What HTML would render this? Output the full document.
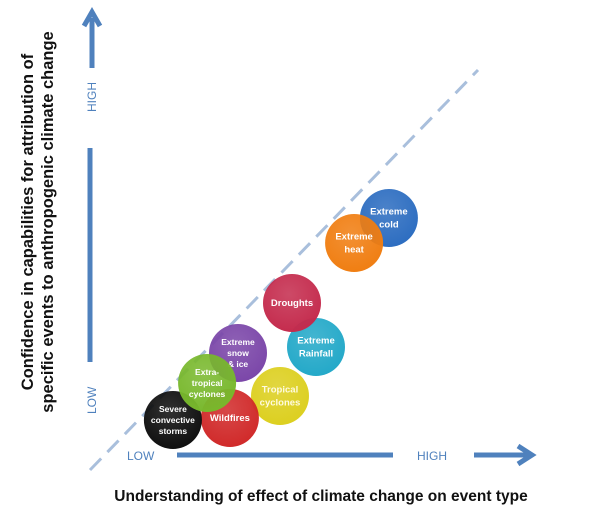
<!DOCTYPE html>
<html><head><meta charset="utf-8">
<style>
html,body{margin:0;padding:0;background:#fff;}
svg{display:block;font-family:"Liberation Sans",sans-serif;}
</style></head>
<body>
<svg id="chart" width="600" height="515" viewBox="0 0 600 515">
<defs></defs>
<line x1="90" y1="470" x2="478" y2="70" stroke="#a9bfdc" stroke-width="3" stroke-dasharray="16,9"/>
<g>
<line x1="92" y1="68" x2="92" y2="18" stroke="#4f81bd" stroke-width="5"/>
<polyline points="84,26 92,12 100,26" fill="none" stroke="#4f81bd" stroke-width="5"/>
<line x1="90" y1="148" x2="90" y2="362" stroke="#4f81bd" stroke-width="5"/>
<text transform="translate(96,112) rotate(-90)" font-size="12" fill="#4f81bd">HIGH</text>
<text transform="translate(96,414) rotate(-90)" font-size="12" fill="#4f81bd">LOW</text>
<text transform="translate(33,222) rotate(-90)" font-size="16.5" font-weight="bold" text-anchor="middle" fill="#111">Confidence in capabilities for attribution of</text>
<text transform="translate(53,222) rotate(-90)" font-size="16.5" font-weight="bold" text-anchor="middle" fill="#111">specific events to anthropogenic climate change</text>
</g>
<g>
<line x1="177" y1="455" x2="393" y2="455" stroke="#4f81bd" stroke-width="5"/>
<line x1="474" y1="455" x2="528" y2="455" stroke="#4f81bd" stroke-width="5"/>
<polyline points="518,446 532,455 518,464" fill="none" stroke="#4f81bd" stroke-width="5"/>
<text x="127" y="460" font-size="12" fill="#4f81bd">LOW</text>
<text x="417" y="460" font-size="12" fill="#4f81bd">HIGH</text>
<text x="321" y="501" font-size="15.5" font-weight="bold" text-anchor="middle" fill="#111">Understanding of effect of climate change on event type</text>
</g>
<g id="bubbles"></g>
</svg>
<script>
const categories = [["Extreme","cold"],["Extreme","heat"],["Extreme","Rainfall"],["Droughts"],["Tropical","cyclones"],["Extreme","snow","& ice"],["Wildfires"],["Severe","convective","storms"],["Extra-","tropical","cyclones"]];
const understanding = [8.63, 7.47, 6.2, 5.4, 5.0, 3.6, 3.33, 1.43, 2.57];
const confidence = [8.88, 7.88, 3.72, 5.48, 1.76, 3.48, 0.88, 0.8, 2.28];
const colors = ["#2b6cc0","#f07d10","#22a8c8","#c42a4c","#dccf1e","#7a45a8","#d02828","#0d0d0d","#78b82c"];
const xScale = v => 130 + v * 30;
const yScale = v => 440 - v * 25;
const R = 29;
const NS = "http://www.w3.org/2000/svg";
const svg = document.getElementById("chart");
const defs = svg.querySelector("defs");
const g = document.getElementById("bubbles");
categories.forEach((lines, i) => {
  const grad = document.createElementNS(NS, "radialGradient");
  grad.setAttribute("id", "g" + i);
  grad.setAttribute("cx", "0.45"); grad.setAttribute("cy", "0.35"); grad.setAttribute("r", "0.7");
  const s1 = document.createElementNS(NS, "stop"); s1.setAttribute("offset", "0"); s1.setAttribute("stop-color", colors[i]); s1.setAttribute("stop-opacity", "0.85");
  const s2 = document.createElementNS(NS, "stop"); s2.setAttribute("offset", "1"); s2.setAttribute("stop-color", colors[i]);
  grad.appendChild(s1); grad.appendChild(s2); defs.appendChild(grad);
  const cx = xScale(understanding[i]), cy = yScale(confidence[i]);
  const c = document.createElementNS(NS, "circle");
  c.setAttribute("cx", cx); c.setAttribute("cy", cy); c.setAttribute("r", R);
  c.setAttribute("fill", "url(#g" + i + ")");
  
  
  g.appendChild(c);
  const lh = lines.length === 3 ? 11 : 13;
  const fs = lines.length === 3 ? 8.5 : 9.5;
  lines.forEach((ln, j) => {
    const t = document.createElementNS(NS, "text");
    t.setAttribute("x", cx);
    t.setAttribute("y", cy + (j - (lines.length - 1) / 2) * lh + 3);
    t.setAttribute("text-anchor", "middle");
    t.setAttribute("font-size", fs);
    t.setAttribute("font-weight", "bold");
    t.setAttribute("fill", i === 4 ? "#fffbe0" : "#fff");
    t.textContent = ln;
    
    
    g.appendChild(t);
  });
});
</script>
</body></html>
